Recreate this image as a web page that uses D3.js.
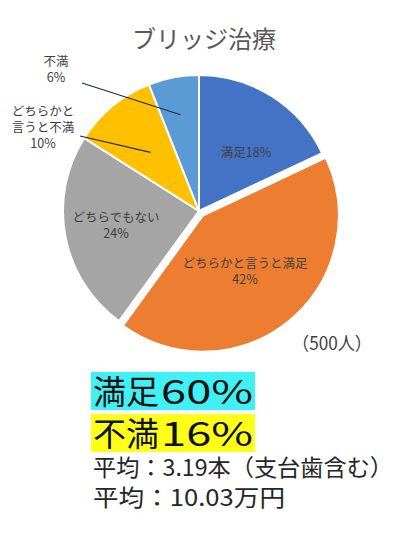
<!DOCTYPE html>
<html>
<head>
<meta charset="utf-8">
<script src="https://cdn.jsdelivr.net/npm/d3@7"></script>
<style>
  body { margin: 0; background: #fff; }
  text { font-family: "Noto Sans CJK JP", "Noto Sans", sans-serif; }
</style>
</head>
<body>
<svg id="chart"></svg>
<script>
// data
const title = "ブリッジ治療";
const categories = ["満足", "どちらかと言うと満足", "どちらでもない", "どちらかと言うと不満", "不満"];
const values = [18, 42, 24, 10, 6];
const labelLines = [
    ["満足18%"],
    ["どちらかと言うと満足", "42%"],
    ["どちらでもない", "24%"],
    ["どちらかと", "言うと不満", "10%"],
    ["不満", "6%"]
];
const sampleNote = "（500人）";
const summaryLines = ["満足60%", "不満16%"];
const averageLines = ["平均：3.19本（支台歯含む）", "平均：10.03万円"];

class pieChart {
    constructor(_config) {
        this.config = {
            parentElement: _config.parentElement,
            containerWidth: _config.containerWidth || 395,
            containerHeight: _config.containerHeight || 539,
            cx: 199,
            cy: 211,
            radius: 136,
            explode: 6
        };
        this.initVis();
    }

    initVis() {
        let vis = this;

        vis.colors = d3.scaleOrdinal()
            .domain(categories)
            .range(["#4472c4", "#ed7d31", "#a5a5a5", "#ffc000", "#5b9bd5"]);

        vis.pie = d3.pie().sort(null).value(d => d);
        vis.arc = d3.arc().innerRadius(0).outerRadius(vis.config.radius);

        // label layout, relative to pie centre
        vis.labelPos = [[47, -59], [46, 60], [-83, 14], [-156, -84], [-143, -142]];
        // leader lines: start offset from label, end radius inside slice
        vis.leaders = {3: {start: [37, 9], r: 76}, 4: {start: [26, 14], r: 98}};

        vis.svg = d3.select(vis.config.parentElement)
            .attr('width', vis.config.containerWidth)
            .attr('height', vis.config.containerHeight);

        vis.chart = vis.svg.append('g')
            .attr('transform', `translate(${vis.config.cx},${vis.config.cy})`);

        // Chart title
        vis.svg.append("text")
            .attr("x", 204)
            .attr("y", 48)
            .attr("text-anchor", "middle")
            .style("font-size", "24px")
            .style("fill", "#595959")
            .text(title);

        vis.renderVis();
    }

    renderVis() {
        let vis = this;
        const arcs = vis.pie(values);

        vis.chart.selectAll(".slice")
            .data(arcs)
            .join("path")
            .attr("class", "slice")
            .attr("d", vis.arc)
            .attr("transform", (d, i) => {
                if (i !== 1) return null;
                const a = (d.startAngle + d.endAngle) / 2;
                return `translate(${vis.config.explode * Math.sin(a)},${-vis.config.explode * Math.cos(a)})`;
            })
            .attr("fill", (d, i) => vis.colors(categories[i]))
            .attr("stroke", "#fff")
            .attr("stroke-width", 2)
            .attr("stroke-linejoin", "round");

        // leader lines
        Object.keys(vis.leaders).forEach(k => {
            const i = +k, d = arcs[i], ld = vis.leaders[k];
            const a = (d.startAngle + d.endAngle) / 2;
            vis.chart.append("line")
                .attr("x1", vis.labelPos[i][0] + ld.start[0])
                .attr("y1", vis.labelPos[i][1] + ld.start[1])
                .attr("x2", ld.r * Math.sin(a))
                .attr("y2", -ld.r * Math.cos(a))
                .attr("stroke", "#1f2a44")
                .attr("stroke-width", 1.2);
        });

        // labels
        const lh = 16;
        vis.chart.selectAll(".label")
            .data(arcs)
            .join("text")
            .attr("class", "label")
            .attr("text-anchor", "middle")
            .style("font-size", "12.5px")
            .style("fill", "#404040")
            .each(function(d, i) {
                const lines = labelLines[i];
                const [x, y] = vis.labelPos[i];
                const y0 = y - (lines.length - 1) * lh / 2 + 5;
                d3.select(this).selectAll("tspan")
                    .data(lines)
                    .join("tspan")
                    .attr("x", x)
                    .attr("y", (t, j) => y0 + j * lh)
                    .text(t => t);
            });

        // sample size
        vis.svg.append("text")
            .attr("x", 292)
            .attr("y", 350)
            .attr("textLength", 80)
            .attr("lengthAdjust", "spacingAndGlyphs")
            .style("font-size", "18px")
            .style("fill", "#404040")
            .text(sampleNote);

        // summary boxes
        const boxColors = ["#3ff0f4", "#ffff1a"];
        summaryLines.forEach((t, i) => {
            const head = t.replace(/[0-9%]+$/, "");
            const num = t.slice(head.length);
            const y = 404 + i * 42;
            vis.svg.append("rect")
                .attr("x", 91)
                .attr("y", 372 + i * 42)
                .attr("width", 164)
                .attr("height", 38)
                .attr("fill", boxColors[i]);
            vis.svg.append("text")
                .attr("x", 93)
                .attr("y", y)
                .style("font-size", "33px")
                .style("fill", "#111")
                .text(head);
            vis.svg.append("text")
                .attr("x", 161)
                .attr("y", y)
                .attr("textLength", 92)
                .attr("lengthAdjust", "spacingAndGlyphs")
                .style("font-size", "33px")
                .style("fill", "#111")
                .text(num);
        });

        const avgLen = [300, 192];
        averageLines.forEach((t, i) => {
            vis.svg.append("text")
                .attr("x", 93)
                .attr("y", 476 + i * 30)
                .attr("textLength", avgLen[i])
                .attr("lengthAdjust", "spacingAndGlyphs")
                .style("font-size", "23px")
                .style("fill", "#262626")
                .text(t);
        });
    }
}

new pieChart({parentElement: "#chart"});
</script>
</body>
</html>
